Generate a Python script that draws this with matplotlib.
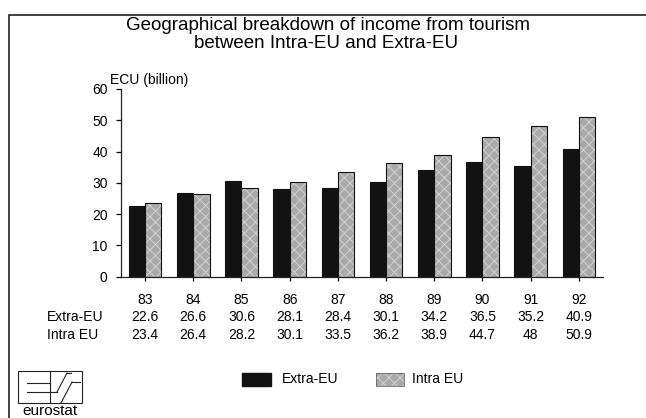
import numpy as np
import matplotlib
matplotlib.use("Agg")
import matplotlib.pyplot as plt
from matplotlib.patches import Rectangle
from matplotlib.lines import Line2D
from matplotlib.transforms import blended_transform_factory

years = ["83", "84", "85", "86", "87", "88", "89", "90", "91", "92"]
extra_eu = [22.6, 26.6, 30.6, 28.1, 28.4, 30.1, 34.2, 36.5, 35.2, 40.9]
intra_eu = [23.4, 26.4, 28.2, 30.1, 33.5, 36.2, 38.9, 44.7, 48, 50.9]
extra_lbl = ["22.6", "26.6", "30.6", "28.1", "28.4", "30.1", "34.2", "36.5", "35.2", "40.9"]
intra_lbl = ["23.4", "26.4", "28.2", "30.1", "33.5", "36.2", "38.9", "44.7", "48", "50.9"]

plt.rcParams['font.family'] = ['Liberation Sans', 'DejaVu Sans']
plt.rcParams['hatch.linewidth'] = 0.7

W, H = 646, 418
fig = plt.figure(figsize=(W / 100, H / 100), dpi=100)

def fx(px):
    return px / W

def fy(py):
    return 1 - py / H

# outer frame (right and bottom edges run off the picture)
fig.add_artist(Rectangle((fx(9), fy(440)), fx(670) - fx(9), fy(15) - fy(440),
                         transform=fig.transFigure, fill=False, lw=1.2, ec='#222222'))

ax = fig.add_axes([fx(121), fy(276.5), fx(603) - fx(121), fy(89) - fy(276.5)])
x = np.arange(len(years))
bw = 0.34
ax.bar(x - bw / 2, extra_eu, bw, color='#121212', edgecolor='#121212', lw=0.8, label='Extra-EU')
# speckled grey bars: texture layer, then black outline
ax.bar(x + bw / 2, intra_eu, bw, color='#a9a9a9', edgecolor='#d2d2d2', lw=0, hatch='xxx')
ax.bar(x + bw / 2, intra_eu, bw, fill=False, edgecolor='#111111', lw=0.8, label='Intra EU')

ax.set_xlim(-0.5, len(years) - 0.5)
ax.set_ylim(0, 60)
ax.set_yticks(range(0, 61, 10))
ax.set_xticks(x)
ax.set_xticklabels(years)
for s in ['top', 'right']:
    ax.spines[s].set_visible(False)
for s in ['left', 'bottom']:
    ax.spines[s].set_linewidth(0.9)
    ax.spines[s].set_color('#222222')
ax.tick_params(axis='y', length=3.6, width=0.9, pad=6, labelsize=10)
ax.tick_params(axis='x', length=3, width=0.9, pad=9, labelsize=10)

# titles
fig.text(fx(328), fy(25), "Geographical breakdown of income from tourism",
         ha='center', va='center', fontsize=13.5)
fig.text(fx(326), fy(44), "between Intra-EU and Extra-EU",
         ha='center', va='center', fontsize=13.5)
fig.text(fx(110), fy(80), "ECU (billion)", ha='left', va='center', fontsize=10)

# data table under the axis
tr = blended_transform_factory(ax.transData, fig.transFigure)
fig.text(fx(47), fy(317), "Extra-EU", ha='left', va='center', fontsize=10)
fig.text(fx(47), fy(335), "Intra EU", ha='left', va='center', fontsize=10)
for i in range(len(years)):
    ax.text(x[i], fy(317), extra_lbl[i], transform=tr, ha='center', va='center', fontsize=10)
    ax.text(x[i], fy(335), intra_lbl[i], transform=tr, ha='center', va='center', fontsize=10)

# legend
fig.add_artist(Rectangle((fx(242), fy(386)), fx(29), fy(373) - fy(386),
                         transform=fig.transFigure, fc='#121212', ec='#121212'))
fig.text(fx(282), fy(379), "Extra-EU", ha='left', va='center', fontsize=10)
fig.add_artist(Rectangle((fx(376), fy(386)), fx(28), fy(373) - fy(386),
                         transform=fig.transFigure, fc='#a9a9a9', ec='#d2d2d2',
                         hatch='xxx', lw=0))
fig.add_artist(Rectangle((fx(376), fy(386)), fx(28), fy(373) - fy(386),
                         transform=fig.transFigure, fill=False, ec='#666666', lw=0.6))
fig.text(fx(412), fy(379), "Intra EU", ha='left', va='center', fontsize=10)

# eurostat logo
fig.add_artist(Rectangle((fx(18), fy(403)), fx(64), fy(371) - fy(403),
                         transform=fig.transFigure, fill=False, ec='#222222', lw=0.8))
logo_lines = [
    ((50, 50), (371, 403)),
    ((27, 50), (383, 383)),
    ((27, 57), (392, 392)),
    ((57, 67), (392, 373)),
    ((67, 71), (373, 373)),
    ((61, 72), (403, 382)),
    ((72, 80), (382, 382)),
]
for xs, ys in logo_lines:
    fig.add_artist(Line2D([fx(v) for v in xs], [fy(v) for v in ys],
                          transform=fig.transFigure, color='#222222', lw=0.8))
fig.text(fx(50), fy(404), "eurostat", ha='center', va='top', fontsize=11)

fig.savefig("out.png", dpi=100)
